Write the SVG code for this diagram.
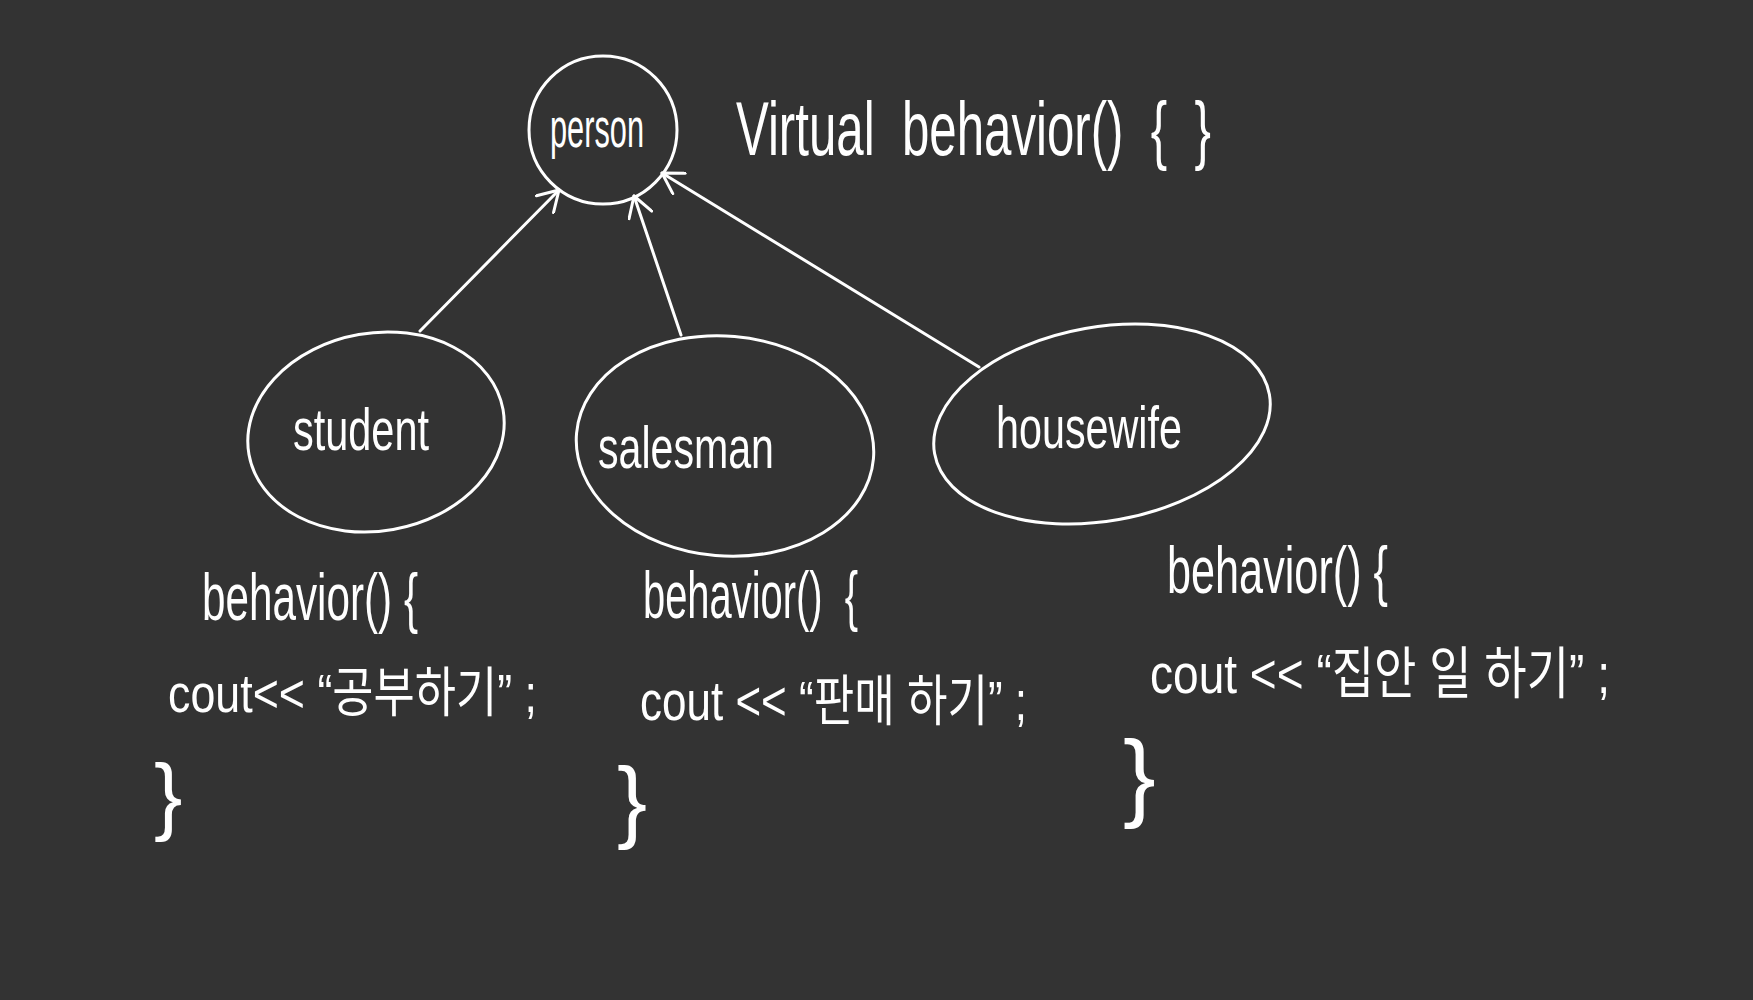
<svg xmlns="http://www.w3.org/2000/svg" width="1753" height="1000" viewBox="0 0 1753 1000">
<style>
.bg{fill:#333333}
.shape{fill:none;stroke:#ffffff;stroke-width:3}
.edge{fill:none;stroke:#ffffff;stroke-width:3;stroke-linecap:round}
text{fill:#ffffff;font-family:"Liberation Sans","Noto Sans CJK KR",sans-serif}
.lbl{font-size:60px}
.beh{font-size:66px}
</style>
<defs>
<marker id="open" markerUnits="userSpaceOnUse" markerWidth="26" markerHeight="26" viewBox="0 0 26 26" refX="23" refY="13" orient="auto">
<path d="M3,1 L23,13 L3,25" fill="none" stroke="#ffffff" stroke-width="3" stroke-linecap="round" stroke-linejoin="round"/>
</marker>
</defs>
<rect class="bg" x="0" y="0" width="1753" height="1000"/>

<g id="person">
<circle class="shape" cx="603" cy="130" r="74"/>
<text style="font-size:56px" x="550" y="147" textLength="94" lengthAdjust="spacingAndGlyphs">person</text>
</g>

<g id="person-note">
<text style="font-size:76px" x="736" y="155" textLength="475" lengthAdjust="spacingAndGlyphs">Virtual&#160; behavior()&#160; {&#160; }</text>
</g>

<g id="student">
<ellipse class="shape" cx="376" cy="432" rx="129" ry="99" transform="rotate(-10 376 432)"/>
<text class="lbl" x="293" y="450" textLength="136" lengthAdjust="spacingAndGlyphs">student</text>
</g>

<g id="salesman">
<ellipse class="shape" cx="725" cy="446" rx="149" ry="110" transform="rotate(5 725 446)"/>
<text class="lbl" x="598" y="468" textLength="176" lengthAdjust="spacingAndGlyphs">salesman</text>
</g>

<g id="housewife">
<ellipse class="shape" cx="1102" cy="424" rx="170" ry="97" transform="rotate(-10 1102 424)"/>
<text class="lbl" x="996" y="448" textLength="186" lengthAdjust="spacingAndGlyphs">housewife</text>
</g>

<g id="connectors">
<line class="edge" x1="420" y1="331" x2="559" y2="190" marker-end="url(#open)"/>
<line class="edge" x1="681" y1="335" x2="634" y2="196" marker-end="url(#open)"/>
<line class="edge" x1="979" y1="367" x2="662" y2="173" marker-end="url(#open)"/>
</g>

<g id="student-code">
<text class="beh" x="202" y="620" textLength="216" lengthAdjust="spacingAndGlyphs">behavior() {</text>
<text style="font-size:54px" x="168" y="712" textLength="369" lengthAdjust="spacingAndGlyphs">cout&lt;&lt; “공부하기” ;</text>
<text style="font-size:85px" x="154" y="824">}</text>
</g>

<g id="salesman-code">
<text class="beh" x="643" y="618" textLength="215" lengthAdjust="spacingAndGlyphs">behavior()&#160; {</text>
<text style="font-size:55px" x="640" y="720" textLength="387" lengthAdjust="spacingAndGlyphs">cout &lt;&lt; “판매 하기” ;</text>
<text style="font-size:90px" x="617" y="831">}</text>
</g>

<g id="housewife-code">
<text class="beh" x="1167" y="593" textLength="221" lengthAdjust="spacingAndGlyphs">behavior() {</text>
<text style="font-size:56px" x="1150" y="693" textLength="460" lengthAdjust="spacingAndGlyphs">cout &lt;&lt; “집안 일 하기” ;</text>
<text style="font-size:98px" x="1123" y="809">}</text>
</g>
</svg>
